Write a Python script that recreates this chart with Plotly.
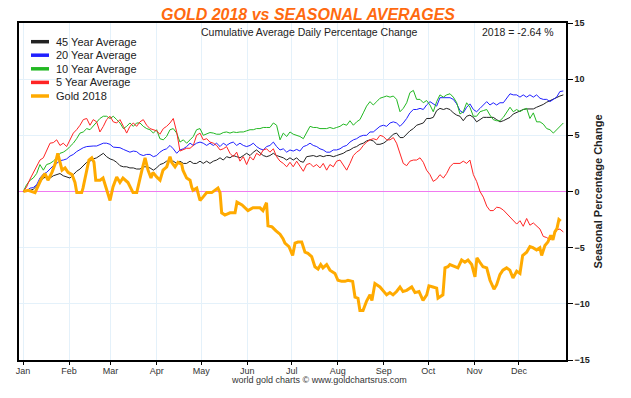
import plotly.graph_objects as go

# ---------------- data ----------------
months = ["Jan", "Feb", "Mar", "Apr", "May", "Jun", "Jul", "Aug", "Sep", "Oct", "Nov", "Dec"]
month_start_days = [0, 31, 59, 90, 120, 151, 181, 212, 243, 273, 304, 334]
y_ticks = [-15, -10, -5, 0, 5, 10, 15]

# sampling grid (day of year) for the seasonal averages
avg_days = [round(0.2 + 2.245 * k, 1) for k in range(163)]

avg45 = [
    0, 0.0, 0.1, 0.2, 0.5, 0.8, 1.2, 1.3, 1.2, 1.4,
    1.5, 1.6, 1.4, 1.3, 1.2, 1.5, 1.8, 2.0, 2.3, 2.6,
    2.7, 2.9, 3.0, 3.2, 3.4, 3.1, 2.9, 2.8, 2.6, 2.3,
    2.2, 2.2, 2.1, 2.1, 2.0, 2.0, 2.2, 2.2, 2.1, 1.9,
    2.1, 2.4, 2.5, 2.7, 2.7, 2.7, 2.5, 2.7, 2.5, 2.5,
    2.7, 2.5, 2.5, 2.7, 2.5, 2.7, 2.5, 2.7, 2.8, 3.0,
    2.8, 3.1, 3.0, 3.2, 3.1, 3.0, 3.2, 3.4, 3.2, 3.5,
    3.7, 3.4, 3.2, 3.1, 3.2, 3.4, 3.2, 3.1, 3.0, 2.8,
    3.0, 2.8, 3.0, 2.7, 2.6, 3.1, 3.15, 3.2, 3.1, 3.2,
    3.1, 3.2, 3.2, 3.1, 3.2, 3.3, 3.4, 3.6, 3.7, 3.9,
    4.0, 4.2, 4.3, 4.5, 4.6, 4.5, 4.2, 4.2, 4.3, 4.5,
    4.8, 5.1, 5.2, 4.8, 4.8, 5.1, 5.4, 5.6, 5.9, 6.0,
    6.1, 6.5, 6.5, 6.6, 7.2, 7.4, 7.3, 7.4, 7.3, 7.0,
    6.8, 6.7, 6.3, 6.7, 6.8, 6.6, 6.2, 6.4, 6.6, 6.6,
    6.6, 6.6, 6.4, 6.2, 6.3, 6.45, 6.6, 6.9, 7.05, 7.2,
    7.3, 7.35, 7.35, 7.35, 7.5, 7.6, 7.75, 7.95, 8.1, 8.25,
    8.35, 8.5, 8.6,
]

avg20 = [
    0, 0.05, 0.3, 0.35, 0.6, 1.2, 1.55, 1.7, 2.0, 2.3,
    2.5, 2.75, 2.8, 2.9, 3.15, 3.3, 3.55, 3.75, 3.9, 4.0,
    4.05, 4.05, 4.05, 4.2, 4.3, 4.3, 4.2, 3.95, 3.9, 3.9,
    3.75, 3.6, 3.5, 3.6, 3.55, 3.3, 3.2, 3.3, 3.3, 3.1,
    3.2, 3.5, 3.7, 3.8, 4.1, 3.8, 3.4, 3.7, 3.8, 4.0,
    4.3, 4.1, 4.3, 4.4, 4.3, 4.1, 4.3, 4.1, 4.3, 4.0,
    4.3, 4.1, 4.3, 4.4, 4.1, 4.3, 4.1, 4.0, 4.1, 4.3,
    4.0, 3.8, 3.7, 4.0, 4.1, 4.4, 4.0, 3.7, 3.8, 3.5,
    3.7, 3.6, 3.75, 3.6, 4.0, 4.1, 4.3, 4.1, 4.0, 3.8,
    3.7, 3.5, 3.5, 3.7, 3.7, 3.8, 4.0, 4.1, 4.4, 4.6,
    4.7, 4.9, 5.0, 5.0, 5.3, 5.3, 5.6, 5.8, 5.9, 5.8,
    6.1, 6.2, 6.1, 5.8, 6.1, 6.5, 7.0, 7.3, 7.3, 7.4,
    7.3, 7.7, 8.0, 7.8, 7.6, 8.35, 8.35, 8.35, 8.35, 8.2,
    7.8, 7.2, 7.0, 7.5, 7.8, 7.3, 7.1, 7.4, 7.7, 8.0,
    7.7, 7.9, 7.7, 7.9, 7.9, 8.3, 8.7, 8.6, 8.6, 8.4,
    8.6, 8.4, 8.6, 8.4, 8.6, 8.3, 8.2, 8.2, 8.0, 8.2,
    8.4, 8.9, 8.95,
]

avg10 = [
    0, 0.6, 1.0, 1.2, 1.6, 2.4, 1.9, 2.4, 2.5, 2.7,
    3.0, 3.4, 3.5, 3.7, 4.0, 4.3, 4.7, 5.2, 5.3, 5.6,
    5.5, 5.8, 6.2, 6.5, 6.7, 6.7, 6.5, 6.7, 6.4, 6.1,
    5.6, 5.8, 6.1, 5.8, 6.1, 6.1, 5.8, 5.6, 5.5, 5.2,
    5.5, 4.7, 4.6, 4.9, 5.5, 5.6, 5.2, 4.4, 4.6, 4.3,
    4.6, 4.9, 5.5, 5.6, 5.0, 5.1, 5.25, 5.2, 5.1, 5.1,
    5.25, 5.3, 5.2, 5.3, 5.25, 5.3, 5.3, 5.4, 5.5, 5.5,
    5.6, 5.6, 5.7, 5.7, 5.7, 6.1, 5.9, 4.6, 5.2, 4.9,
    5.3, 5.1, 5.0, 4.9, 4.7, 5.3, 5.8, 5.7, 5.7, 5.6,
    5.6, 5.6, 5.7, 5.6, 5.7, 5.8, 6.0, 5.9, 6.3, 5.9,
    6.2, 6.4, 7.0, 7.6, 8.0, 7.7, 8.0, 8.3, 8.4, 8.5,
    8.4, 8.5, 8.2, 7.1, 7.4, 7.9, 8.8, 9.0, 8.2, 8.2,
    7.9, 8.1, 7.7, 7.1, 8.0, 8.6, 8.4, 8.6, 8.7, 8.4,
    7.9, 6.9, 7.1, 7.9, 7.5, 6.7, 6.7, 7.1, 7.2, 7.3,
    6.8, 6.4, 6.3, 6.3, 6.6, 7.1, 7.5, 7.1, 7.3, 7.1,
    7.3, 7.4, 6.5, 7.0, 6.2, 6.2, 6.0, 5.6, 5.5, 5.2,
    5.5, 5.8, 6.1,
]

avg5 = [
    0, 0.4, 1.1, 1.7, 2.3, 2.8, 3.0, 3.7, 4.3, 4.35,
    4.6, 4.1, 4.3, 4.0, 4.6, 5.2, 5.5, 5.9, 6.4, 6.5,
    5.9, 6.4, 6.2, 5.3, 5.8, 6.4, 6.7, 6.2, 6.1, 6.4,
    5.8, 5.2, 5.8, 6.1, 5.8, 6.2, 6.4, 5.9, 5.6, 5.5,
    5.4, 5.1, 5.6, 5.8, 6.1, 6.5, 5.3, 3.6, 3.75, 3.85,
    3.85, 4.1, 5.0, 5.2, 4.6, 4.7, 4.4, 4.3, 4.1, 3.7,
    3.8, 4.0, 3.4, 3.1, 3.5, 2.7, 3.1, 2.4, 3.1, 2.8,
    3.4, 3.2, 3.7, 3.8, 3.5, 3.8, 3.1, 2.7, 2.5, 2.2,
    2.6, 2.2, 2.7, 2.2, 1.8, 2.4, 2.5, 2.2, 2.4, 2.1,
    2.5, 1.9, 2.4, 2.2, 2.7, 2.8, 2.4, 1.9, 2.5, 3.2,
    3.5, 3.7, 4.1, 4.4, 4.6, 4.7, 4.6, 5.0, 4.9, 4.6,
    4.6, 4.8, 4.3, 3.4, 2.5, 2.3, 2.7, 2.8, 2.8, 3.0,
    2.6, 1.9, 1.5, 0.9, 1.1, 1.5, 1.2, 1.6, 2.2, 2.5,
    2.5, 2.5, 2.7, 2.5, 2.8, 1.5, 0.9, 0.0, -0.5, -1.3,
    -1.7, -1.7, -1.4, -1.45, -1.65, -1.95, -2.3, -2.65, -2.9, -2.6,
    -3.1, -2.4, -3.0, -2.8, -3.1, -3.35, -4.0, -4.1, -4.3, -4.0,
    -3.4, -3.35, -3.6,
]

gold_days = [
    0.2, 3.4, 8.1, 12.6, 14.8, 16.8, 19.5, 21.5, 23.4, 24.9,
    26.3, 28.3, 30.3, 33.0, 35.0, 36.2, 39.5, 40.4, 42.9, 44.4,
    46.3, 47.8, 49.0, 51.9, 53.9, 56.4, 58.6, 60.6, 63.1, 65.3,
    67.3, 70.7, 74.1, 76.6, 78.8, 80.1, 82.2, 84.2, 86.2, 87.5,
    90.0, 92.3, 94.3, 96.8, 99.0, 100.1, 102.4, 104.4, 106.9, 107.7,
    110.2, 112.5, 113.6, 114.5, 117.0, 119.2, 121.2, 123.7, 127.1, 129.3,
    131.3, 132.7, 133.8, 136.0, 139.4, 142.8, 144.1, 147.5, 149.8, 151.5,
    154.9, 159.6, 161.6, 164.0, 165.0, 167.7, 170.4, 173.1, 175.1, 176.4,
    179.1, 181.6, 183.2, 185.2, 187.7, 189.9, 191.9, 194.4, 196.6, 198.7,
    200.5, 202.0, 204.5, 206.7, 210.1, 212.1, 214.6, 216.8, 218.9, 222.0,
    223.6, 225.6, 226.9, 229.0, 231.4, 233.7, 235.0, 237.0, 240.4, 242.4,
    244.9, 247.1, 249.2, 251.6, 253.9, 255.9, 258.4, 261.8, 264.0, 266.7,
    269.4, 271.9, 273.4, 276.1, 278.6, 279.5, 282.8, 284.2, 286.2, 287.5,
    290.9, 292.9, 295.4, 297.6, 299.7, 302.2, 304.4, 305.7, 307.7, 309.8,
    312.3, 314.5, 317.2, 319.0, 321.2, 323.2, 325.7, 327.9, 330.0, 332.5,
    334.7, 336.5, 339.2, 341.4, 343.4, 345.9, 348.1, 349.3, 351.5, 353.5,
    355.4, 356.9, 358.2, 359.6, 360.9, 362.1,
]

gold_2018 = [
    0.0, 0.1, -0.1, 1.2, 1.6, 1.0, 1.7, 2.4, 3.4, 2.6,
    1.9, 2.1, 1.7, 1.5, 0.8, -0.1, -0.1, 0.3, 1.7, 2.8,
    3.0, 2.6, 1.0, 1.0, 1.2, 0.1, -0.8, 0.4, 1.3, 0.8,
    1.2, 0.8, -0.1, -0.1, 1.0, 1.9, 3.0, 1.9, 1.2, 1.7,
    1.3, 1.0, 1.9, 2.2, 3.1, 2.6, 2.2, 2.6, 2.4, 1.9,
    1.2, 1.0, 0.4, 0.1, 0.3, -0.8, -0.5, -0.1, -0.1, 0.1,
    0.3, -0.1, -1.9, -2.1, -1.9, -1.9, -0.95, -1.2, -1.5, -1.7,
    -1.45, -1.45, -1.7, -1.0, -3.05, -3.15, -3.5, -3.8, -4.2, -4.6,
    -4.9, -5.7, -4.6, -4.5, -4.5, -5.4, -5.5, -5.8, -6.7, -6.9,
    -6.5, -6.8, -6.5, -7.0, -7.3, -7.9, -8.0, -8.0, -7.9, -8.0,
    -9.4, -9.5, -10.6, -10.6, -9.75, -9.2, -9.7, -8.2, -8.5, -8.8,
    -9.2, -9.0, -9.2, -8.9, -8.5, -8.9, -8.8, -8.5, -9.0, -8.9,
    -9.7, -9.2, -8.4, -8.5, -8.6, -9.5, -9.2, -6.8, -6.7, -6.5,
    -6.7, -6.8, -6.1, -6.3, -6.1, -6.5, -7.6, -5.9, -6.3, -6.7,
    -6.8, -7.9, -8.7, -8.3, -7.4, -7.0, -6.8, -7.0, -7.7, -7.1,
    -7.3, -5.7, -5.4, -4.9, -5.0, -5.2, -5.0, -5.7, -4.8, -4.5,
    -3.9, -4.3, -3.6, -3.3, -2.5, -2.64,
]

series_names = ["45 Year Average", "20 Year Average", "10 Year Average", "5 Year Average", "Gold 2018"]
series_colors = ["#222222", "#2020ff", "#22b822", "#ff2424", "#ffaa00"]
series_widths = [1, 1, 1, 1, 3]

for s in (avg45, avg20, avg10, avg5):
    assert len(s) == len(avg_days), len(s)
assert len(gold_days) == len(gold_2018), (len(gold_days), len(gold_2018))

# ---------------- figure ----------------
FONT = "Liberation Sans, Arial, sans-serif"
fig = go.Figure()
xs = [avg_days, avg_days, avg_days, avg_days, gold_days]
ys = [avg45, avg20, avg10, avg5, gold_2018]
for name, x, y, c, w in zip(series_names, xs, ys, series_colors, series_widths):
    fig.add_trace(go.Scatter(x=x, y=y, mode="lines", name=name,
                             line=dict(color=c, width=w, shape="linear"),
                             showlegend=False, hoverinfo="skip"))

# plot area in pixels: x 19..566, y 23..360
L, R, T, B = 19, 566, 23, 360
def px(xp):
    return (xp - L) / (R - L)
def py(yp):
    return 1 - (yp - T) / (B - T)

shapes = []
annotations = []
# custom compact legend
leg_rows = [41.7, 55.2, 68.8, 82.4, 96.0]
for name, c, yy in zip(series_names, series_colors, leg_rows):
    shapes.append(dict(type="line", xref="paper", yref="paper",
                       x0=px(31), x1=px(49), y0=py(yy), y1=py(yy),
                       line=dict(color=c, width=3.5)))
    annotations.append(dict(text=name, xref="paper", yref="paper",
                            x=px(54), y=py(yy), xanchor="left", yanchor="middle",
                            showarrow=False, font=dict(size=11, color="#222", family=FONT)))

annotations += [
    dict(text="<b><i>GOLD 2018 vs SEASONAL AVERAGES</i></b>", xref="paper", yref="paper",
         x=px(308), y=py(14.5), xanchor="center", yanchor="middle", showarrow=False,
         font=dict(size=16, color="#ff6a10", family=FONT)),
    dict(text="Cumulative Average Daily Percentage Change", xref="paper", yref="paper",
         x=px(309), y=py(32), xanchor="center", yanchor="middle", showarrow=False,
         font=dict(size=10.5, color="#222", family=FONT)),
    dict(text=f"2018 = {gold_2018[-1]:.2f} %", xref="paper", yref="paper",
         x=px(556), y=py(32), xanchor="right", yanchor="middle", showarrow=False,
         font=dict(size=10.5, color="#222", family=FONT)),
    dict(text="world gold charts © www.goldchartsrus.com", xref="paper", yref="paper",
         x=px(319), y=py(380), xanchor="center", yanchor="middle", showarrow=False,
         font=dict(size=9, color="#333", family=FONT)),
]

fig.update_layout(
    width=631, height=398,
    margin=dict(l=L, r=631 - R, t=T, b=398 - B, autoexpand=False),
    paper_bgcolor="white", plot_bgcolor="white",
    showlegend=False,
    font=dict(family=FONT, color="#222"),
    shapes=shapes, annotations=annotations,
)
fig.update_xaxes(
    range=[-2.7, 365.7], tickmode="array", tickvals=month_start_days, ticktext=months,
    showgrid=True, gridcolor="#e4f1fa", gridwidth=1, zeroline=False,
    showline=True, linecolor="black", linewidth=1.5, mirror=True,
    ticks="outside", ticklen=3, tickcolor="black", tickwidth=1,
    ticklabelstandoff=-2,
    tickfont=dict(size=9, color="#333", family=FONT),
)
fig.update_yaxes(
    range=[-15, 15], side="right", tickmode="array", tickvals=y_ticks,
    showgrid=True, gridcolor="#e4f1fa", gridwidth=1,
    zeroline=True, zerolinecolor="#f07af0", zerolinewidth=1,
    showline=True, linecolor="black", linewidth=1.5, mirror=True,
    ticks="outside", ticklen=5, tickcolor="black", tickwidth=1,
    tickfont=dict(size=9, color="#222", family=FONT, weight="bold"),
    title=dict(text="<b>Seasonal Percentage Change</b>", standoff=5,
               font=dict(size=11, color="#222", family=FONT)),
)

fig.write_html("out.html",
               config={"displayModeBar": False},
               post_script="document.body.style.margin='0';document.body.style.padding='0';document.body.style.overflow='hidden';")
